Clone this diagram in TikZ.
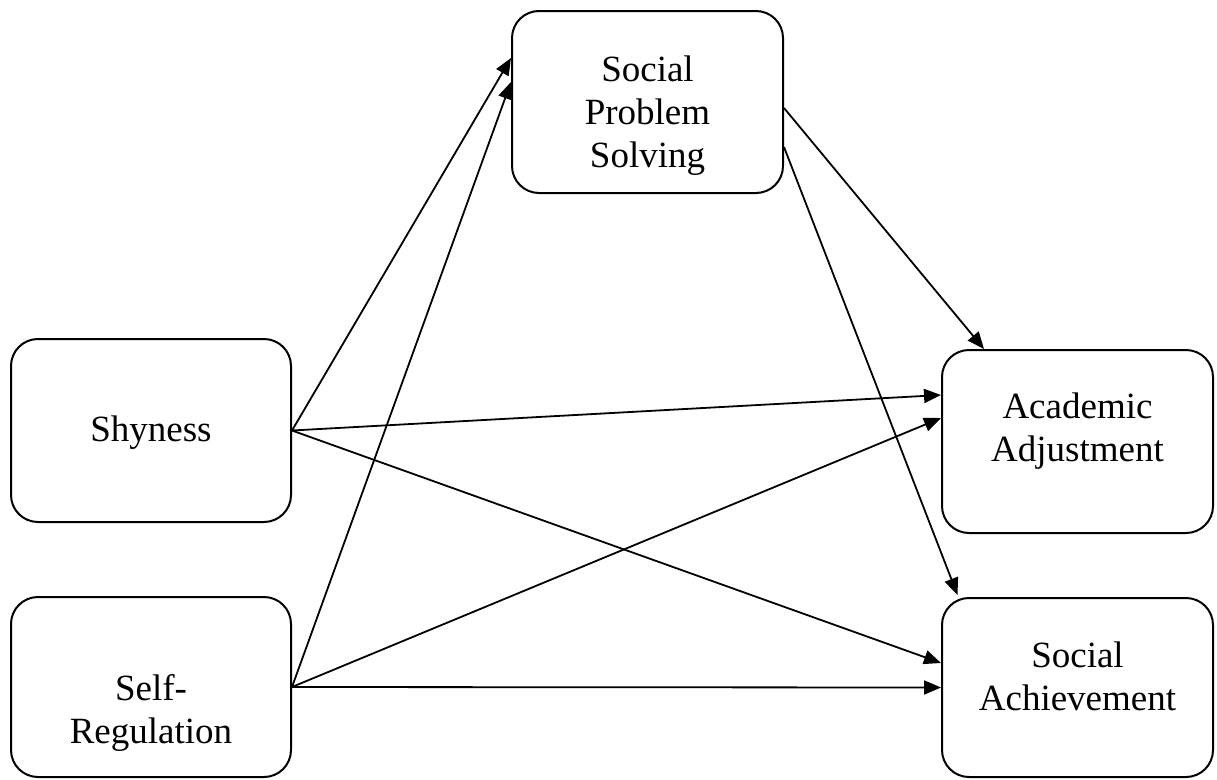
\documentclass[tikz,border=0pt]{standalone}
\usepackage{fontspec}
\setmainfont{Liberation Serif}
\usetikzlibrary{arrows.meta,calc}
\begin{document}
\begin{tikzpicture}[x=1pt,y=-1pt,
  box/.style={draw,line width=2pt,rounded corners=27pt,inner sep=0pt},
  lbl/.style={align=center,font=\fontsize{37}{43}\selectfont,inner sep=0pt,anchor=base},
  conn/.style={line width=1.8pt,-{Triangle[length=17pt,width=14pt]}}]
\useasboundingbox (0,0) rectangle (1217,779);
\node[box,minimum width=280pt,minimum height=183pt] (shy) at (151,430.5) {};
\node[box,minimum width=280pt,minimum height=180pt] (self) at (151,687) {};
\node[box,minimum width=271pt,minimum height=182pt] (sps) at (647.5,102) {};
\node[box,minimum width=271pt,minimum height=183pt] (aa) at (1077.5,441.5) {};
\node[box,minimum width=271pt,minimum height=179pt] (sa) at (1077.5,687.5) {};
\node[lbl] (shyT) at (151,441) {Shyness};
\node[lbl] (selfT) at (151,743) {Self-\\Regulation};
\node[lbl] (spsT) at (647.5,167) {Social\\Problem\\Solving};
\node[lbl] (aaT) at (1077.5,461) {Academic\\Adjustment};
\node[lbl] (saT) at (1077.5,710) {Social\\Achievement};
\draw[conn] (shy.east) -- ([yshift=44pt]sps.west);
\draw[conn] (self.east) -- ([yshift=20pt]sps.west);
\draw[conn] (shy.east) -- ([yshift=46.5pt]aa.west);
\draw[conn] (shy.east) -- ([yshift=24.5pt]sa.west);
\draw[conn] (self.east) -- ([yshift=23.5pt]aa.west);
\draw[conn] (self.east) -- (sa.west);
\draw[conn] ([yshift=-6pt]sps.east) -- ([xshift=-93.5pt]aa.north);
\draw[conn] ([yshift=-45pt]sps.east) -- ([xshift=-120pt,yshift=2pt]sa.north);
\end{tikzpicture}
\end{document}
